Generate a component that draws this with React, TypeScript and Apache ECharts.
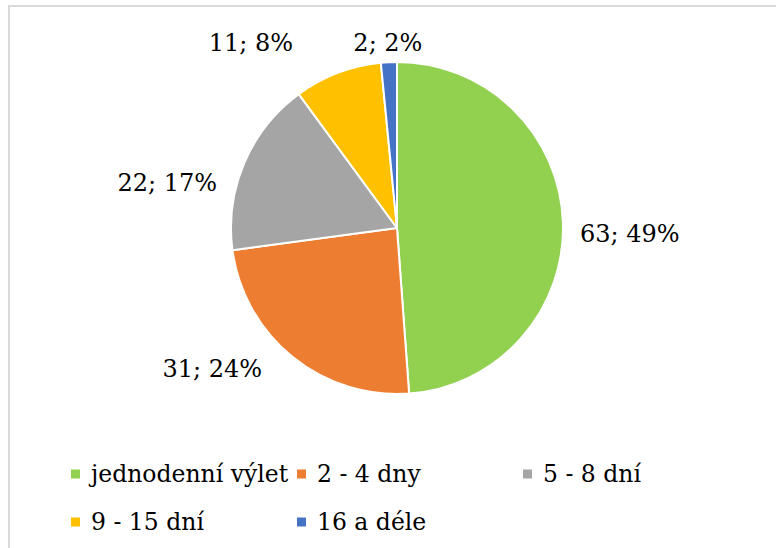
import React, { useEffect, useRef } from "react";
import * as echarts from "echarts";

const categories = ["jednodenní výlet", "2 - 4 dny", "5 - 8 dní", "9 - 15 dní", "16 a déle"];
const counts = [63, 31, 22, 11, 2];
const percents = [49, 24, 17, 8, 2];
const colors = ["#92D050", "#ED7D31", "#A5A5A5", "#FFC000", "#4472C4"];

// layout constants (label nudges relative to ECharts' outside label position)
const labelNudge: [number, number][] = [
  [2, 12],
  [-19, 4],
  [-13, 24],
  [-36, -21],
  [39, -9],
];
const legendCols = [69, 295, 521];
const legendRows = [457, 505];
const FONT = "DejaVu Serif";

export default function App() {
  const ref = useRef<HTMLDivElement>(null);
  useEffect(() => {
    if (!ref.current) return;
    const chart = echarts.init(ref.current, undefined, { renderer: "svg" });
    const legends = categories.map((name, i) => ({
      data: [name],
      left: legendCols[i % 3],
      top: legendRows[Math.floor(i / 3)],
      padding: 0,
      itemWidth: 11,
      itemHeight: 11,
      icon: "rect",
      selectedMode: false,
      textStyle: {
        fontFamily: FONT,
        fontSize: 23.5,
        color: "#000",
        lineHeight: 34,
        padding: [0, 0, 0, 5],
      },
    }));
    chart.setOption({
      animation: false,
      backgroundColor: "#fff",
      color: colors,
      textStyle: { fontFamily: FONT },
      graphic: [
        {
          type: "rect",
          shape: { x: 9, y: 6, width: 800, height: 600 },
          style: { fill: "none", stroke: "#D9D9D9", lineWidth: 2 },
          silent: true,
        },
      ],
      legend: legends,
      series: [
        {
          type: "pie",
          center: [397, 228],
          radius: 166,
          startAngle: 90,
          clockwise: true,
          avoidLabelOverlap: false,
          itemStyle: { borderColor: "#fff", borderWidth: 2 },
          label: {
            show: true,
            position: "outside",
            fontFamily: FONT,
            fontSize: 24,
            color: "#000",
            distanceToLabelLine: 5,
            formatter: (p: any) => `${counts[p.dataIndex]}; ${percents[p.dataIndex]}%`,
          },
          labelLine: { show: false, length: 10, length2: 0 },
          labelLayout: (params: any) => ({
            dx: labelNudge[params.dataIndex][0],
            dy: labelNudge[params.dataIndex][1],
          }),
          emphasis: { disabled: true },
          data: categories.map((name, i) => ({ name, value: counts[i] })),
        },
      ],
    });
    return () => chart.dispose();
  }, []);
  return (
    <div
      ref={ref}
      style={{ position: "fixed", left: 0, top: 0, width: 776, height: 548, background: "#fff" }}
    />
  );
}
